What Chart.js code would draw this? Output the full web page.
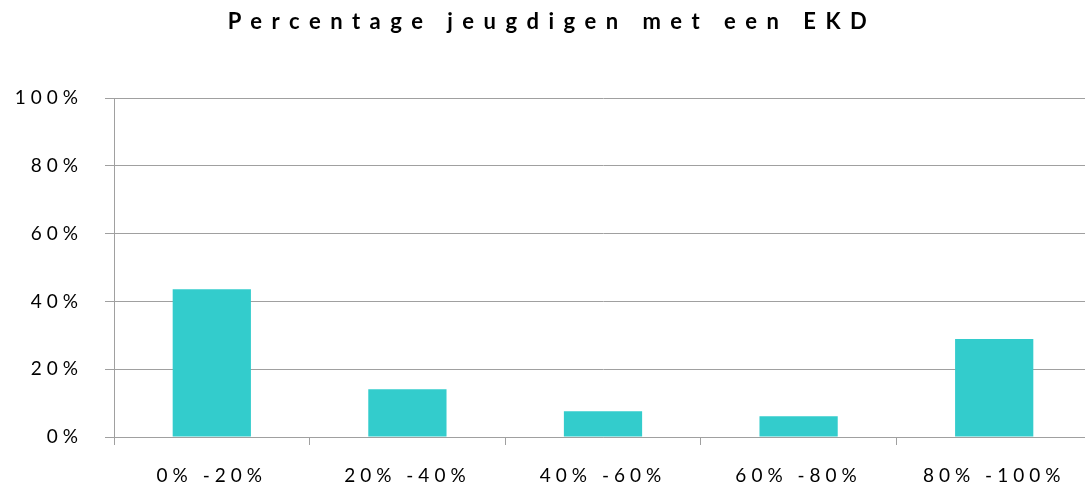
<!DOCTYPE html>
<html>
<head>
<meta charset="utf-8">
<script src="https://cdn.jsdelivr.net/npm/chart.js@4"></script>
<style>
  html, body { margin: 0; padding: 0; background: #fff; overflow: hidden; }
  .wrap { width: 1092px; height: 486px; position: relative; }
</style>
</head>
<body>
<div class="wrap"><canvas id="chart"></canvas></div>
<script>
const categories = ['0% -20%', '20% -40%', '40% -60%', '60% -80%', '80% -100%'];
const values = [43.6, 14.1, 7.6, 6.1, 28.9];
const yTicks = [0, 20, 40, 60, 80, 100];
const chartTitle = 'Percentage jeugdigen met een EKD';

// spaced-out text like the original export
const spacing = {
  id: 'spacing',
  beforeDraw(chart) {
    chart.ctx.letterSpacing = '5px';
  },
  afterDraw(chart) {
    const ctx = chart.ctx;
    ctx.save();
    ctx.letterSpacing = '9.5px';
    ctx.font = 'bold 22px Lato';
    ctx.fillStyle = '#000';
    ctx.textAlign = 'center';
    ctx.textBaseline = 'middle';
    ctx.fillText(chartTitle, 552, 22);
    ctx.restore();
    ctx.letterSpacing = '0px';
  }
};

const ctx = document.getElementById('chart').getContext('2d');
new Chart(ctx, {
  type: 'bar',
  data: {
    labels: categories,
    datasets: [{
      data: values,
      backgroundColor: '#33CCCC',
      borderWidth: 0,
      barPercentage: 0.4,
      categoryPercentage: 1
    }]
  },
  options: {
    responsive: true,
    maintainAspectRatio: false,
    animation: false,
    layout: { padding: { top: 98, right: 0, left: 0, bottom: 0 } },
    plugins: {
      legend: { display: false },
      title: { display: false },
      tooltip: { enabled: false }
    },
    scales: {
      x: {
        grid: { drawOnChartArea: false, drawTicks: true, tickLength: 8, color: '#a0a0a0' },
        border: { color: '#a0a0a0' },
        ticks: { color: '#000', font: { family: 'Lato', size: 19 }, padding: 19, maxRotation: 0 },
        afterFit(scale) { scale.height = 49; }
      },
      y: {
        min: 0,
        max: 100,
        afterBuildTicks(scale) { scale.ticks = yTicks.map(v => ({ value: v })); },
        grid: { color: '#a0a0a0', tickLength: 9 },
        border: { color: '#a0a0a0' },
        ticks: {
          color: '#000',
          font: { family: 'Lato', size: 19 },
          padding: 22,
          callback: v => v + '%'
        },
        afterFit(scale) { scale.width = 114; }
      }
    }
  },
  plugins: [spacing]
});
</script>
</body>
</html>
